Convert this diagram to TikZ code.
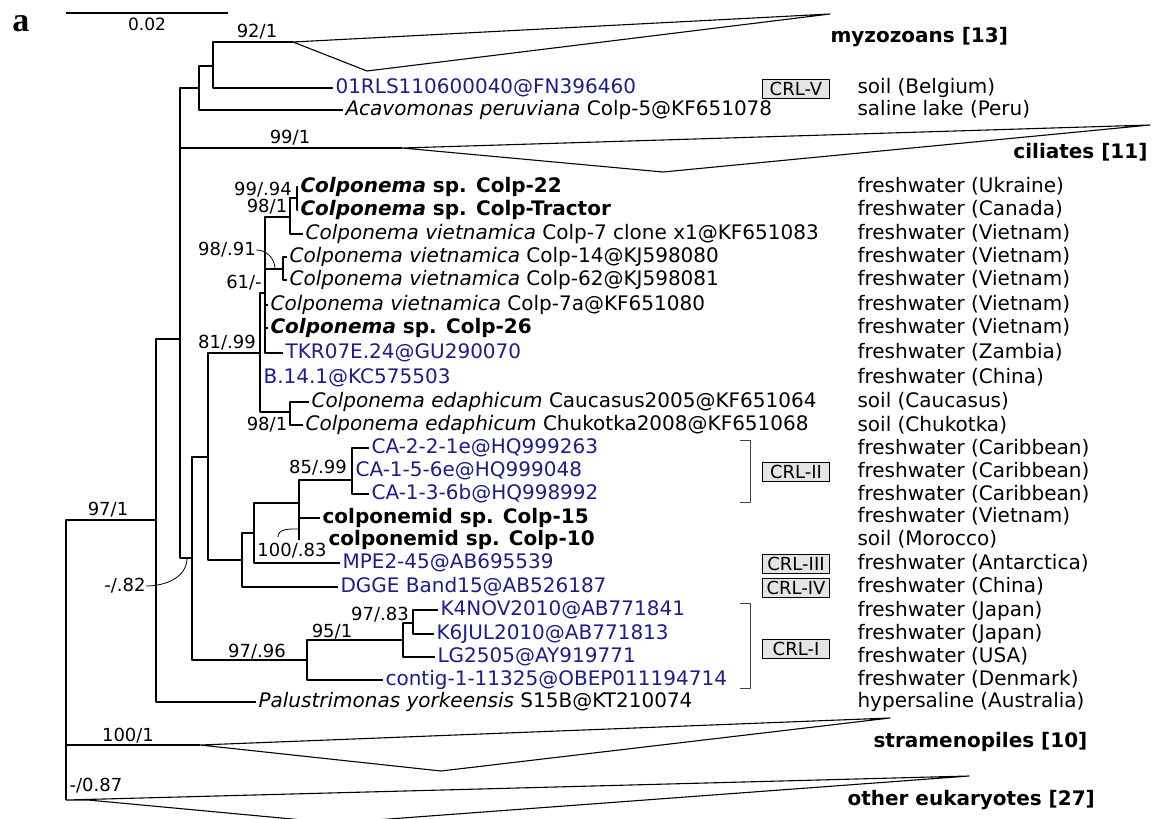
\documentclass[tikz,border=0pt]{standalone}
\usepackage{fontspec}
\setmainfont{DejaVu Sans}
\newfontfamily\panelfont{Liberation Serif}
\definecolor{seqblue}{RGB}{28,28,140}
\begin{document}
\begin{tikzpicture}[x=1pt,y=-1pt,line width=1.1pt,line join=round,
  leaf/.style={anchor=west,inner sep=2pt,text height=15pt,text depth=4pt,font=\fontsize{20}{24}\selectfont},
  seq/.style={leaf,text=seqblue},
  env/.style={leaf,inner sep=0pt},
  grp/.style={leaf,inner sep=0pt,font=\fontsize{20}{24}\selectfont\bfseries},
  boot/.style={inner sep=0pt,font=\fontsize{18}{22}\selectfont},
  crl/.style={draw,line width=0.7pt,fill=black!10,minimum width=67pt,minimum height=19pt,inner sep=0pt,font=\fontsize{18}{20}\selectfont},
  brace/.style={line width=0.8pt,black!75},
  pointer/.style={line width=0.8pt}]
\useasboundingbox (0,0) rectangle (1154,819);
% panel letter and scale bar
\node (panel) at (21,24) {\fontsize{34}{34}\selectfont\panelfont\bfseries a};
\draw (66,13) -- (228,13) node[midway,below=4pt,inner sep=0pt,font=\fontsize{17}{20}\selectfont] (scale) {0.02};
% internal nodes
\coordinate (root) at (66,700);
\coordinate (nA) at (156,520);
\coordinate (nB) at (180,339);
\coordinate (nC) at (199,88);
\coordinate (nMyz) at (213,66);
\coordinate (myzA) at (293,42);
\coordinate (cilA) at (402,148);
\coordinate (nD) at (192,558);
\coordinate (nE) at (208,457);
\coordinate (nF) at (260,353);
\coordinate (nG) at (265,293);
\coordinate (nH) at (290,217);
\coordinate (nJ) at (297,198);
\coordinate (nI) at (283,269);
\coordinate (nEd) at (290,412);
\coordinate (nK) at (242,560);
\coordinate (nL) at (254,533);
\coordinate (nM) at (299,503);
\coordinate (nCA) at (352,480);
\coordinate (nN) at (307,660);
\coordinate (nO) at (403,640);
\coordinate (nP) at (413,623);
\coordinate (strA) at (200,745);
\coordinate (othA) at (66,800);
% leaves
\node[seq] (l01) at (333,88) {01RLS110600040@FN396460};
\node[leaf] (lAca) at (343,110) {\textit{Acavomonas peruviana} Colp-5@KF651078};
\node[leaf] (l22) at (298,187) {\textbf{\textit{Colponema} sp. Colp-22}};
\node[leaf] (lTr) at (298,210) {\textbf{\textit{Colponema} sp. Colp-Tractor}};
\node[leaf] (l7c) at (303,234) {\textit{Colponema vietnamica} Colp-7 clone x1@KF651083};
\node[leaf] (l14) at (287,257) {\textit{Colponema vietnamica} Colp-14@KJ598080};
\node[leaf] (l62) at (287,280) {\textit{Colponema vietnamica} Colp-62@KJ598081};
\node[leaf] (l7a) at (268,305) {\textit{Colponema vietnamica} Colp-7a@KF651080};
\node[leaf] (l26) at (268,328) {\textbf{\textit{Colponema} sp. Colp-26}};
\node[seq] (lTKR) at (283,353) {TKR07E.24@GU290070};
\node[seq] (lB14) at (261,378) {B.14.1@KC575503};
\node[leaf] (lCau) at (309,402) {\textit{Colponema edaphicum} Caucasus2005@KF651064};
\node[leaf] (lChu) at (303,425) {\textit{Colponema edaphicum} Chukotka2008@KF651068};
\node[seq] (lCA1) at (369,448) {CA-2-2-1e@HQ999263};
\node[seq] (lCA2) at (353,471) {CA-1-5-6e@HQ999048};
\node[seq] (lCA3) at (369,494) {CA-1-3-6b@HQ998992};
\node[leaf] (l15) at (320,518) {\textbf{colponemid sp. Colp-15}};
\node[leaf] (l10) at (326,540) {\textbf{colponemid sp. Colp-10}};
\node[seq] (lMP) at (340,563) {MPE2-45@AB695539};
\node[seq] (lDG) at (338,587) {DGGE Band15@AB526187};
\node[seq] (lK4) at (438,610) {K4NOV2010@AB771841};
\node[seq] (lK6) at (434,634) {K6JUL2010@AB771813};
\node[seq] (lLG) at (435,657) {LG2505@AY919771};
\node[seq] (lCon) at (383,680) {contig-1-11325@OBEP011194714};
\node[leaf] (lPal) at (256,702) {\textit{Palustrimonas yorkeensis} S15B@KT210074};
% branches
\draw (root) |- (nA) (root) |- (strA) (root) |- (othA);
\draw[line width=2pt] (66,632) -- (66,745);
\draw (nA) |- (nB) (nA) |- (lPal.west);
\draw (nB) |- (nC) (nB) |- (cilA) (nB) |- (nD);
\draw (nC) |- (nMyz) (nC) |- (lAca.west);
\draw (nMyz) |- (myzA) (nMyz) |- (l01.west);
\draw (nD) |- (nE) (nD) |- (nN);
\draw (nE) |- (nF) (nE) |- (nK);
\draw (nF) |- (nG) (nF) |- (nEd) (nF) |- (lB14.west);
\draw (nG) |- (nH) (nG) |- (nI) (nG) |- (l7a.west) (nG) |- (l26.west) (nG) |- (lTKR.west);
\draw (nH) |- (nJ) (nH) |- (l7c.west);
\draw (nJ) |- (l22.west) (nJ) |- (lTr.west);
\draw (nI) |- (l14.west) (nI) |- (l62.west);
\draw (nEd) |- (lCau.west) (nEd) |- (lChu.west);
\draw (nK) |- (nL) (nK) |- (lDG.west);
\draw (nL) |- (nM) (nL) |- (lMP.west);
\draw (nM) |- (nCA) (nM) |- (l15.west) (nM) -- (nM |- l10.west);
\draw (nCA) |- (lCA1.west) (nCA) |- (lCA2.west) (nCA) |- (lCA3.west);
\draw (nN) |- (nO) (nN) |- (lCon.west);
\draw (nO) |- (nP) (nO) |- (lLG.west);
\draw (nP) |- (lK4.west) (nP) |- (lK6.west);
% collapsed clades
\draw (myzA) -- (830,14) -- (367,71) -- cycle;
\draw (cilA) -- (1150,125) -- (663,172) -- cycle;
\draw (strA) -- (890,718) -- (441,771) -- cycle;
\draw (othA) -- (969,776) -- (335,823) -- (88,800) -- cycle;
\node[grp] (gMyz) at (830,37) {myzozoans [13]};
\node[grp,anchor=east] (gCil) at (1148,153) {ciliates [11]};
\node[grp] (gStr) at (873,742) {stramenopiles [10]};
\node[grp] (gOth) at (847,800) {other eukaryotes [27]};
% support values
\node[boot] (b92) at (257,32) {92/1};
\node[boot] (b99) at (290,138) {99/1};
\node[boot] (b9994) at (263,190) {99/.94};
\node[boot] (b981) at (267,207) {98/1};
\node[boot] (b9891) at (227,250) {98/.91};
\node[boot] (b61) at (244,283) {61/-};
\node[boot] (b8199) at (227,343) {81/.99};
\node[boot] (b98ed) at (267,425) {98/1};
\node[boot] (b8599) at (318,468) {85/.99};
\node[boot] (b10083) at (292,551) {100/.83};
\node[boot] (b9783) at (380,615) {97/.83};
\node[boot] (b951) at (332,632) {95/1};
\node[boot] (b9796) at (257,652) {97/.96};
\node[boot] (b971) at (108,510) {97/1};
\node[boot] (b82) at (125,586) {-/.82};
\node[boot] (b1001) at (128,736) {100/1};
\node[boot] (b087) at (96,786) {-/0.87};
\coordinate (p10083) at (278,537);
\draw[pointer] (b9891.east) to[out=0,in=90] (275,269);
\draw[pointer] (b82.east) to[out=0,in=-90] (187,558);
\draw[pointer] (p10083) to[out=90,in=180] (299,529);
% lineages
\node[crl] (crl5) at (796,89) {CRL-V};
\node[crl] (crl2) at (796,472) {CRL-II};
\node[crl] (crl3) at (796,564) {CRL-III};
\node[crl] (crl4) at (796,588) {CRL-IV};
\node[crl] (crl1) at (796,649) {CRL-I};
\draw[brace] (740,440) -| (750,502) -- (740,502);
\draw[brace] (740,603) -| (750,688) -- (740,688);
% habitats
\node[env] (e1) at (857,88) {soil (Belgium)};
\node[env] (e2) at (857,110) {saline lake (Peru)};
\node[env] (e3) at (857,187) {freshwater (Ukraine)};
\node[env] (e4) at (857,210) {freshwater (Canada)};
\node[env] (e5) at (857,234) {freshwater (Vietnam)};
\node[env] (e6) at (857,257) {freshwater (Vietnam)};
\node[env] (e7) at (857,280) {freshwater (Vietnam)};
\node[env] (e8) at (857,305) {freshwater (Vietnam)};
\node[env] (e9) at (857,328) {freshwater (Vietnam)};
\node[env] (e10) at (857,353) {freshwater (Zambia)};
\node[env] (e11) at (857,378) {freshwater (China)};
\node[env] (e12) at (857,402) {soil (Caucasus)};
\node[env] (e13) at (857,426) {soil (Chukotka)};
\node[env] (e14) at (857,449) {freshwater (Caribbean)};
\node[env] (e15) at (857,472) {freshwater (Caribbean)};
\node[env] (e16) at (857,495) {freshwater (Caribbean)};
\node[env] (e17) at (857,517) {freshwater (Vietnam)};
\node[env] (e18) at (857,540) {soil (Morocco)};
\node[env] (e19) at (857,564) {freshwater (Antarctica)};
\node[env] (e20) at (857,587) {freshwater (China)};
\node[env] (e21) at (857,611) {freshwater (Japan)};
\node[env] (e22) at (857,634) {freshwater (Japan)};
\node[env] (e23) at (857,657) {freshwater (USA)};
\node[env] (e24) at (857,680) {freshwater (Denmark)};
\node[env] (e25) at (857,702) {hypersaline (Australia)};
\end{tikzpicture}
\end{document}
